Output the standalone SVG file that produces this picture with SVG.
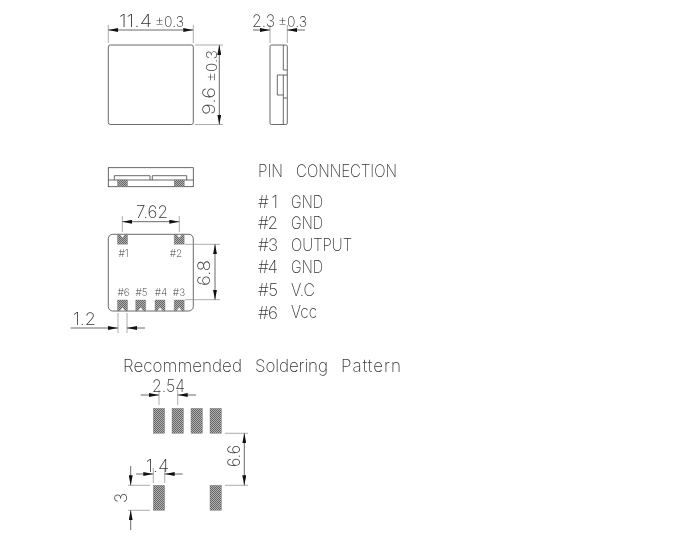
<svg xmlns="http://www.w3.org/2000/svg" width="682" height="538" viewBox="0 0 682 538">
<style>
.l{fill:none;stroke:#444;stroke-width:.8}
.d{fill:none;stroke:#888;stroke-width:.7}
.dm{fill:none;stroke:#444;stroke-width:.8;marker-start:url(#a);marker-end:url(#a)}
.o{fill:none;stroke:#444;stroke-width:.8;marker-end:url(#a)}
.p{fill:url(#h);stroke:#777;stroke-width:.4}
text{font-family:"Inter","Liberation Sans",sans-serif;font-weight:200;fill:#333;font-size:17px}
.m{font-size:10px;text-anchor:middle}
.b{font-size:15px}
</style>
<defs>
<pattern id="h" width="2" height="2" patternUnits="userSpaceOnUse"><rect width="2" height="2" fill="#b0b0b0"/><rect width="1" height="1" fill="#666"/><rect x="1" y="1" width="1" height="1" fill="#666"/></pattern>
<marker id="a" viewBox="0 0 10 4" refX="10" refY="2" markerWidth="10" markerHeight="4" markerUnits="userSpaceOnUse" orient="auto-start-reverse"><path d="M10 2L0 0V4Z" fill="#111"/></marker>
</defs>
<g id="top-view">
<rect class="l" x="108.3" y="45" width="85" height="79.5" rx="2"/>
</g>
<g id="side-view">
<rect class="l" x="270" y="45" width="17.3" height="79.5" rx="1.5"/>
<path class="l" d="M283.3 45V70H287M287 75H277.3V95H283.300V98H287M283.300 98V124.500M283.300 75V95"/>
</g>
<g id="front-view">
<rect class="l" x="108.3" y="167.7" width="85" height="19"/>
<path class="l" d="M108.3 180H193.3M114.3 180V175.7H150V180M152.3 180V175.7H186.7V180"/>
<rect class="p" x="117.5" y="180" width="10" height="6.7"/>
<rect class="p" x="174.2" y="180" width="10" height="6.7"/>
</g>
<g id="bottom-view">
<rect class="l" x="108.3" y="234.3" width="85" height="76.7" rx="4.5"/>
<path class="p" d="M117.5 234.3H119.5L122.5 238L125.5 234.3H127.5V244.3H117.5Z"/>
<path class="p" d="M174.2 234.3H176.2L179.2 238L182.2 234.3H184.2V244.3H174.2Z"/>
<path class="p" d="M117.5 300H127.5V311H125.5L122.5 307L119.5 311H117.5Z"/>
<path class="p" d="M135.7 300H145.7V311H143.7L140.7 307L137.7 311H135.7Z"/>
<path class="p" d="M155 300H165V311H163L160 307L157 311H155Z"/>
<path class="p" d="M174.2 300H184.2V311H182.2L179.2 307L176.2 311H174.2Z"/>
</g>
<g id="pattern">
<rect class="p" x="153.3" y="408.3" width="11.4" height="25"/>
<rect class="p" x="172" y="408.3" width="11.4" height="25"/>
<rect class="p" x="191" y="408.3" width="11.4" height="25"/>
<rect class="p" x="210" y="408.3" width="11.4" height="25"/>
<rect class="p" x="153.3" y="485.3" width="11.4" height="25"/>
<rect class="p" x="210" y="485.3" width="11.4" height="25"/>
</g>
<g id="connectors">
<path class="d" d="M108.3 25V43M193.3 25V43M195 45H223M195 124.5H223M270 25V43M287.300 25V43M122.300 216V232M179.300 216V232M185 244.300H220M185 299.700H220M118 313V333M127 313V333M159 390V405M177.700 390V405M225 433.300H248M225 485.300H248M153.300 468V483M164.700 468V483M128 485.300H150M128 510.300H150"/>
<path class="dm" d="M108.300 30H193.300"/>
<path class="dm" d="M219.300 45V124.500"/>
<path class="dm" d="M122.300 221.700H179.300"/>
<path class="dm" d="M215 244.300V299.700"/>
<path class="dm" d="M244.300 433.300V485.300"/>
<path class="o" d="M253 30H270"/><path class="o" d="M305 30H287.300"/>
<path class="o" d="M70.700 328H118"/><path class="o" d="M145 328H127"/>
<path class="o" d="M140.700 395H159"/><path class="o" d="M196 395H177.700"/>
<path class="o" d="M136 474H153.300"/><path class="o" d="M182.700 474H164.700"/>
<path class="o" d="M130.700 466V485.300"/><path class="o" d="M130.700 530V510.300"/>
</g>
<g id="labels" opacity=".99">
<text x="119" y="27" textLength="33" lengthAdjust="spacingAndGlyphs">11.4</text>
<text class="b" x="155" y="27" textLength="29" lengthAdjust="spacingAndGlyphs">±0.3</text>
<text x="252" y="27" textLength="23" lengthAdjust="spacingAndGlyphs">2.3</text>
<text class="b" x="278" y="27" textLength="29" lengthAdjust="spacingAndGlyphs">±0.3</text>
<text transform="translate(215 115) rotate(-90)" textLength="28" lengthAdjust="spacingAndGlyphs">9.6</text>
<text class="b" transform="translate(217 82) rotate(-90)" textLength="32" lengthAdjust="spacingAndGlyphs">±0.3</text>
<text x="136" y="218" textLength="32" lengthAdjust="spacingAndGlyphs">7.62</text>
<text transform="translate(210 286) rotate(-90)" textLength="26" lengthAdjust="spacingAndGlyphs">6.8</text>
<text x="73" y="325" textLength="23" lengthAdjust="spacingAndGlyphs">1.2</text>
<text x="152" y="392" textLength="33" lengthAdjust="spacingAndGlyphs">2.54</text>
<text x="146" y="471.500" textLength="23" lengthAdjust="spacingAndGlyphs">1.4</text>
<text transform="translate(240 467) rotate(-90)" textLength="22" lengthAdjust="spacingAndGlyphs">6.6</text>
<text transform="translate(127 503) rotate(-90)">3</text>
<text x="123" y="372" textLength="119">Recommended</text>
<text x="255" y="372" textLength="73">Soldering</text>
<text x="341" y="372" textLength="60">Pattern</text>
<text x="258" y="177" textLength="25" lengthAdjust="spacingAndGlyphs">PIN</text>
<text x="296" y="177" textLength="101" lengthAdjust="spacingAndGlyphs">CONNECTION</text>
<text x="258" y="208" textLength="20">#1</text><text x="291" y="207.500" textLength="32" lengthAdjust="spacingAndGlyphs">GND</text>
<text x="258" y="229" textLength="20">#2</text><text x="291" y="228.500" textLength="32" lengthAdjust="spacingAndGlyphs">GND</text>
<text x="258" y="251" textLength="20">#3</text><text x="291" y="250.500" textLength="61" lengthAdjust="spacingAndGlyphs">OUTPUT</text>
<text x="258" y="273" textLength="20">#4</text><text x="291" y="272.500" textLength="32" lengthAdjust="spacingAndGlyphs">GND</text>
<text x="258" y="296" textLength="20">#5</text><text x="291" y="295.500" textLength="24" lengthAdjust="spacingAndGlyphs">V.C</text>
<text x="258" y="319" textLength="20">#6</text><text x="291" y="318" textLength="26" lengthAdjust="spacingAndGlyphs">Vcc</text>
<text class="m" x="123.500" y="256.500">#1</text>
<text class="m" x="176" y="256.500">#2</text>
<text class="m" x="123.500" y="295.500">#6</text>
<text class="m" x="141.500" y="295.500">#5</text>
<text class="m" x="161" y="295.500">#4</text>
<text class="m" x="179" y="295.500">#3</text>
</g>
</svg>
